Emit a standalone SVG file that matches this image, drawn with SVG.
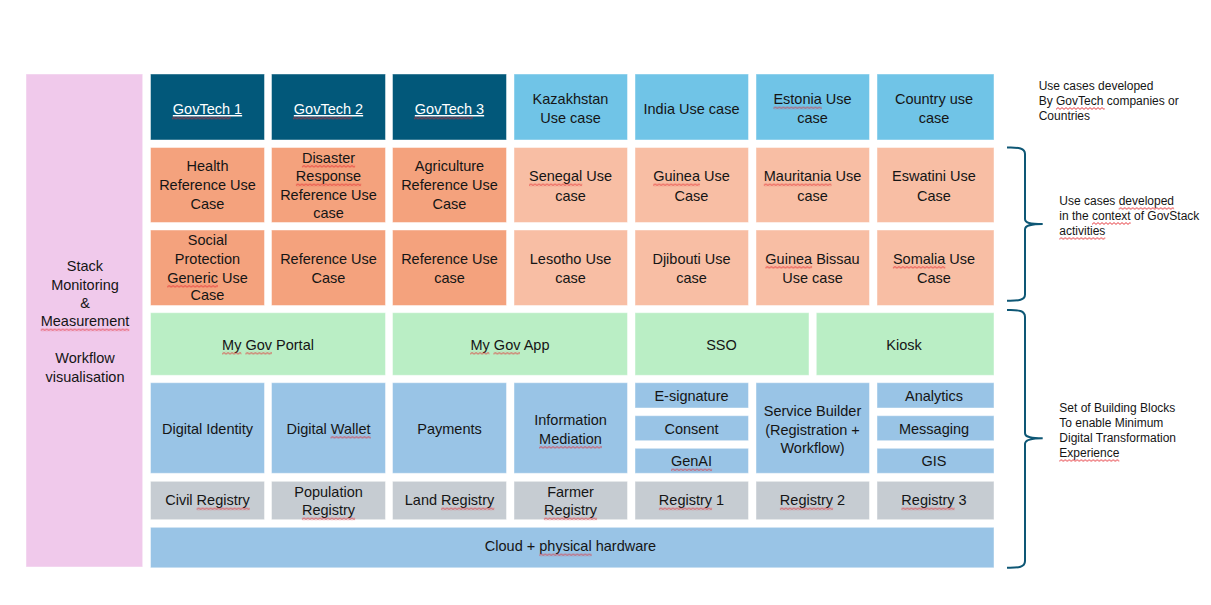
<svg xmlns="http://www.w3.org/2000/svg" width="1211" height="605" viewBox="0 0 1211 605">
<defs>
<pattern id="wave" patternUnits="userSpaceOnUse" x="0" y="0" width="4" height="3">
<path d="M0,2.4 L2,0.6 L4,2.4" fill="none" stroke="#e3262b" stroke-width="0.9"/>
</pattern>
</defs>
<style>
rect{stroke:#ffffff;stroke-opacity:.45;stroke-width:1}
rect.sq{fill:url(#wave);stroke:none}
.pink{fill:#F0C9EB}
.dark{fill:#02587A}
.cyan{fill:#70C4E7}
.org{fill:#F4A27D}
.lorg{fill:#F8BEA4}
.grn{fill:#BAEEC5}
.blu{fill:#99C4E6}
.gry{fill:#C6CCD2}
text{font-family:"Liberation Sans",Arial,sans-serif;font-size:14.5px;fill:#151515;text-anchor:middle}
text.w{fill:#ffffff;text-decoration:underline}
text.side{font-size:12px;text-anchor:start}
.br{fill:none;stroke:#0E5775;stroke-width:2}
</style>
<rect width="1211" height="605" fill="#ffffff" style="stroke:none"/>

<g id="stack-monitoring">
<rect class="pink" x="26" y="74" width="116.7" height="493"/>
<text x="85" y="271"><tspan x="85">Stack</tspan><tspan x="85" y="290">Monitoring</tspan><tspan x="85" y="308">&amp;</tspan><tspan x="85" y="326">Measurement</tspan><tspan x="85" y="363">Workflow</tspan><tspan x="85" y="382">visualisation</tspan></text>
</g>

<g id="govtech1"><rect class="dark" x="150.5" y="74" width="114" height="66"/><text class="w" x="207.5" y="114">GovTech 1</text></g>
<g id="govtech2"><rect class="dark" x="271.5" y="74" width="114" height="66"/><text class="w" x="328.5" y="114">GovTech 2</text></g>
<g id="govtech3"><rect class="dark" x="392.5" y="74" width="114" height="66"/><text class="w" x="449.5" y="114">GovTech 3</text></g>
<g id="kazakhstan"><rect class="cyan" x="514" y="74" width="113.5" height="66"/><text x="570.5" y="104"><tspan x="570.5">Kazakhstan</tspan><tspan x="570.5" y="123">Use case</tspan></text></g>
<g id="india"><rect class="cyan" x="635" y="74" width="113.5" height="66"/><text x="691.5" y="114">India Use case</text></g>
<g id="estonia"><rect class="cyan" x="756" y="74" width="113.5" height="66"/><text x="812.5" y="104"><tspan x="812.5">Estonia Use</tspan><tspan x="812.5" y="123">case</tspan></text></g>
<g id="country"><rect class="cyan" x="877" y="74" width="117" height="66"/><text x="934" y="104"><tspan x="934">Country use</tspan><tspan x="934" y="123">case</tspan></text></g>

<g id="health"><rect class="org" x="150.5" y="147.5" width="114" height="75"/><text x="207.5" y="171"><tspan x="207.5">Health</tspan><tspan x="207.5" y="190">Reference Use</tspan><tspan x="207.5" y="208.5">Case</tspan></text></g>
<g id="disaster"><rect class="org" x="271.5" y="147.5" width="114" height="75"/><text x="328.5" y="162.5"><tspan x="328.5">Disaster</tspan><tspan x="328.5" y="181">Response</tspan><tspan x="328.5" y="199.5">Reference Use</tspan><tspan x="328.5" y="218">case</tspan></text></g>
<g id="agriculture"><rect class="org" x="392.5" y="147.5" width="114" height="75"/><text x="449.5" y="171"><tspan x="449.5">Agriculture</tspan><tspan x="449.5" y="190">Reference Use</tspan><tspan x="449.5" y="208.5">Case</tspan></text></g>
<g id="senegal"><rect class="lorg" x="514" y="147.5" width="113.5" height="75"/><text x="570.5" y="181"><tspan x="570.5">Senegal Use</tspan><tspan x="570.5" y="200.5">case</tspan></text></g>
<g id="guinea"><rect class="lorg" x="635" y="147.5" width="113.5" height="75"/><text x="691.5" y="181"><tspan x="691.5">Guinea Use</tspan><tspan x="691.5" y="200.5">Case</tspan></text></g>
<g id="mauritania"><rect class="lorg" x="756" y="147.5" width="113.5" height="75"/><text x="812.5" y="181"><tspan x="812.5">Mauritania Use</tspan><tspan x="812.5" y="200.5">case</tspan></text></g>
<g id="eswatini"><rect class="lorg" x="877" y="147.5" width="117" height="75"/><text x="934" y="181"><tspan x="934">Eswatini Use</tspan><tspan x="934" y="200.5">Case</tspan></text></g>

<g id="social-protection"><rect class="org" x="150.5" y="230" width="114" height="75.5"/><text x="207.5" y="245"><tspan x="207.5">Social</tspan><tspan x="207.5" y="264">Protection</tspan><tspan x="207.5" y="282.5">Generic Use</tspan><tspan x="207.5" y="300">Case</tspan></text></g>
<g id="reference-use-case-1"><rect class="org" x="271.5" y="230" width="114" height="75.5"/><text x="328.5" y="263.5"><tspan x="328.5">Reference Use</tspan><tspan x="328.5" y="282.5">Case</tspan></text></g>
<g id="reference-use-case-2"><rect class="org" x="392.5" y="230" width="114" height="75.5"/><text x="449.5" y="263.5"><tspan x="449.5">Reference Use</tspan><tspan x="449.5" y="282.5">case</tspan></text></g>
<g id="lesotho"><rect class="lorg" x="514" y="230" width="113.5" height="75.5"/><text x="570.5" y="263.5"><tspan x="570.5">Lesotho Use</tspan><tspan x="570.5" y="282.5">case</tspan></text></g>
<g id="djibouti"><rect class="lorg" x="635" y="230" width="113.5" height="75.5"/><text x="691.5" y="263.5"><tspan x="691.5">Djibouti Use</tspan><tspan x="691.5" y="282.5">case</tspan></text></g>
<g id="guinea-bissau"><rect class="lorg" x="756" y="230" width="113.5" height="75.5"/><text x="812.5" y="263.5"><tspan x="812.5">Guinea Bissau</tspan><tspan x="812.5" y="282.5">Use case</tspan></text></g>
<g id="somalia"><rect class="lorg" x="877" y="230" width="117" height="75.5"/><text x="934" y="263.5"><tspan x="934">Somalia Use</tspan><tspan x="934" y="282.5">Case</tspan></text></g>

<g id="my-gov-portal"><rect class="grn" x="150.5" y="312.7" width="235" height="62.6"/><text x="268" y="349.5">My Gov Portal</text></g>
<g id="my-gov-app"><rect class="grn" x="392.5" y="312.7" width="235" height="62.6"/><text x="510" y="349.5">My Gov App</text></g>
<g id="sso"><rect class="grn" x="635" y="312.7" width="174" height="62.6"/><text x="721.5" y="349.5">SSO</text></g>
<g id="kiosk"><rect class="grn" x="816.3" y="312.7" width="177.7" height="62.6"/><text x="904" y="349.5">Kiosk</text></g>

<g id="digital-identity"><rect class="blu" x="150.5" y="382.7" width="114" height="90.6"/><text x="207.5" y="433.5">Digital Identity</text></g>
<g id="digital-wallet"><rect class="blu" x="271.5" y="382.7" width="114" height="90.6"/><text x="328.5" y="433.5">Digital Wallet</text></g>
<g id="payments"><rect class="blu" x="392.5" y="382.7" width="114" height="90.6"/><text x="449.5" y="433.5">Payments</text></g>
<g id="information-mediation"><rect class="blu" x="514" y="382.7" width="113.5" height="90.6"/><text x="570.5" y="424.5"><tspan x="570.5">Information</tspan><tspan x="570.5" y="443.5">Mediation</tspan></text></g>
<g id="e-signature"><rect class="blu" x="635" y="382.7" width="113.5" height="25.3"/><text x="691.5" y="400.5">E-signature</text></g>
<g id="consent"><rect class="blu" x="635" y="415.7" width="113.5" height="25"/><text x="691.5" y="433.5">Consent</text></g>
<g id="genai"><rect class="blu" x="635" y="448.3" width="113.5" height="25"/><text x="691.5" y="466">GenAI</text></g>
<g id="service-builder"><rect class="blu" x="756" y="382.7" width="113.5" height="90.6"/><text x="812.5" y="416"><tspan x="812.5">Service Builder</tspan><tspan x="812.5" y="434.5">(Registration +</tspan><tspan x="812.5" y="452.5">Workflow)</tspan></text></g>
<g id="analytics"><rect class="blu" x="877" y="382.7" width="117" height="25.3"/><text x="934" y="400.5">Analytics</text></g>
<g id="messaging"><rect class="blu" x="877" y="415.7" width="117" height="25"/><text x="934" y="433.5">Messaging</text></g>
<g id="gis"><rect class="blu" x="877" y="448.3" width="117" height="25"/><text x="934" y="466">GIS</text></g>

<g id="civil-registry"><rect class="gry" x="150.5" y="481.3" width="114" height="38.4"/><text x="207.5" y="505">Civil Registry</text></g>
<g id="population-registry"><rect class="gry" x="271.5" y="481.3" width="114" height="38.4"/><text x="328.5" y="496.5"><tspan x="328.5">Population</tspan><tspan x="328.5" y="515">Registry</tspan></text></g>
<g id="land-registry"><rect class="gry" x="392.5" y="481.3" width="114" height="38.4"/><text x="449.5" y="505">Land Registry</text></g>
<g id="farmer-registry"><rect class="gry" x="514" y="481.3" width="113.5" height="38.4"/><text x="570.5" y="496.5"><tspan x="570.5">Farmer</tspan><tspan x="570.5" y="515">Registry</tspan></text></g>
<g id="registry-1"><rect class="gry" x="635" y="481.3" width="113.5" height="38.4"/><text x="691.5" y="505">Registry 1</text></g>
<g id="registry-2"><rect class="gry" x="756" y="481.3" width="113.5" height="38.4"/><text x="812.5" y="505">Registry 2</text></g>
<g id="registry-3"><rect class="gry" x="877" y="481.3" width="117" height="38.4"/><text x="934" y="505">Registry 3</text></g>

<g id="cloud"><rect class="blu" x="150.5" y="527.3" width="843.5" height="40.5"/><text x="570.5" y="551">Cloud + physical hardware</text></g>

<g id="connectors">
<path class="br" d="M1007,147.5 C1019,147 1025,148.5 1025,154 L1025,219 C1025,223 1030,224 1042.7,224 C1030,224 1025,225.5 1025,229.5 L1025,294.5 C1025,300 1019,301 1007,300.7"/>
<path class="br" d="M1007,310 C1019,309.5 1025,311 1025,317 L1025,433 C1025,437 1030,438.3 1042.7,438.3 C1030,438.3 1025,440 1025,444 L1025,561 C1025,567 1019,568 1007,567.7"/>
</g>

<g id="annotations">
<text class="side" x="1038.7" y="90"><tspan x="1038.7">Use cases developed</tspan><tspan x="1038.7" y="105">By GovTech companies or</tspan><tspan x="1038.7" y="120">Countries</tspan></text>
<text class="side" x="1059.3" y="205"><tspan x="1059.3">Use cases developed</tspan><tspan x="1059.3" y="220">in the context of GovStack</tspan><tspan x="1059.3" y="235">activities</tspan></text>
<text class="side" x="1059.3" y="411.5"><tspan x="1059.3">Set of Building Blocks</tspan><tspan x="1059.3" y="427">To enable Minimum</tspan><tspan x="1059.3" y="442">Digital Transformation</tspan><tspan x="1059.3" y="457">Experience</tspan></text>
</g>

<g id="spellcheck-marks">
<rect class="sq" x="0" y="0" width="58.8" height="3" transform="translate(172,116.6)"/>
<rect class="sq" x="0" y="0" width="58.8" height="3" transform="translate(293,116.6)"/>
<rect class="sq" x="0" y="0" width="58.8" height="3" transform="translate(414,116.6)"/>
<rect class="sq" x="0" y="0" width="48.4" height="3" transform="translate(773.4,106.3)"/>
<rect class="sq" x="0" y="0" width="53.2" height="3" transform="translate(301.9,164.8)"/>
<rect class="sq" x="0" y="0" width="65.3" height="3" transform="translate(295.9,183.3)"/>
<rect class="sq" x="0" y="0" width="53.2" height="3" transform="translate(529,183.3)"/>
<rect class="sq" x="0" y="0" width="46.7" height="3" transform="translate(653.2,183.3)"/>
<rect class="sq" x="0" y="0" width="67.7" height="3" transform="translate(763.8,183.3)"/>
<rect class="sq" x="0" y="0" width="50.8" height="3" transform="translate(167.2,284.8)"/>
<rect class="sq" x="0" y="0" width="46.7" height="3" transform="translate(765.4,265.8)"/>
<rect class="sq" x="0" y="0" width="52.4" height="3" transform="translate(892.9,265.8)"/>
<rect class="sq" x="0" y="0" width="88.6" height="3" transform="translate(40.7,328.3)"/>
<rect class="sq" x="0" y="0" width="19.3" height="3" transform="translate(222.1,351.8)"/>
<rect class="sq" x="0" y="0" width="26.6" height="3" transform="translate(245.4,351.8)"/>
<rect class="sq" x="0" y="0" width="19.3" height="3" transform="translate(470.1,351.8)"/>
<rect class="sq" x="0" y="0" width="26.6" height="3" transform="translate(493.4,351.8)"/>
<rect class="sq" x="0" y="0" width="40.3" height="3" transform="translate(330.5,435.8)"/>
<rect class="sq" x="0" y="0" width="62.9" height="3" transform="translate(539.1,445.8)"/>
<rect class="sq" x="0" y="0" width="41.1" height="3" transform="translate(671,468.3)"/>
<rect class="sq" x="0" y="0" width="53.2" height="3" transform="translate(196.6,507.3)"/>
<rect class="sq" x="0" y="0" width="53.2" height="3" transform="translate(301.9,517.3)"/>
<rect class="sq" x="0" y="0" width="53.2" height="3" transform="translate(441.1,507.3)"/>
<rect class="sq" x="0" y="0" width="53.2" height="3" transform="translate(543.9,517.3)"/>
<rect class="sq" x="0" y="0" width="53.2" height="3" transform="translate(658.9,507.3)"/>
<rect class="sq" x="0" y="0" width="53.2" height="3" transform="translate(779.9,507.3)"/>
<rect class="sq" x="0" y="0" width="53.2" height="3" transform="translate(901.4,507.3)"/>
<rect class="sq" x="0" y="0" width="52.4" height="3" transform="translate(539.3,553.3)"/>
<rect class="sq" x="0" y="0" width="48.7" height="3" transform="translate(1056,107)"/>
<rect class="sq" x="0" y="0" width="55.4" height="3" transform="translate(1118.7,207)"/>
<rect class="sq" x="0" y="0" width="38.7" height="3" transform="translate(1092,222)"/>
<rect class="sq" x="0" y="0" width="46" height="3" transform="translate(1059.3,237)"/>
<rect class="sq" x="0" y="0" width="60" height="3" transform="translate(1059.3,459)"/>
</g>
</svg>
